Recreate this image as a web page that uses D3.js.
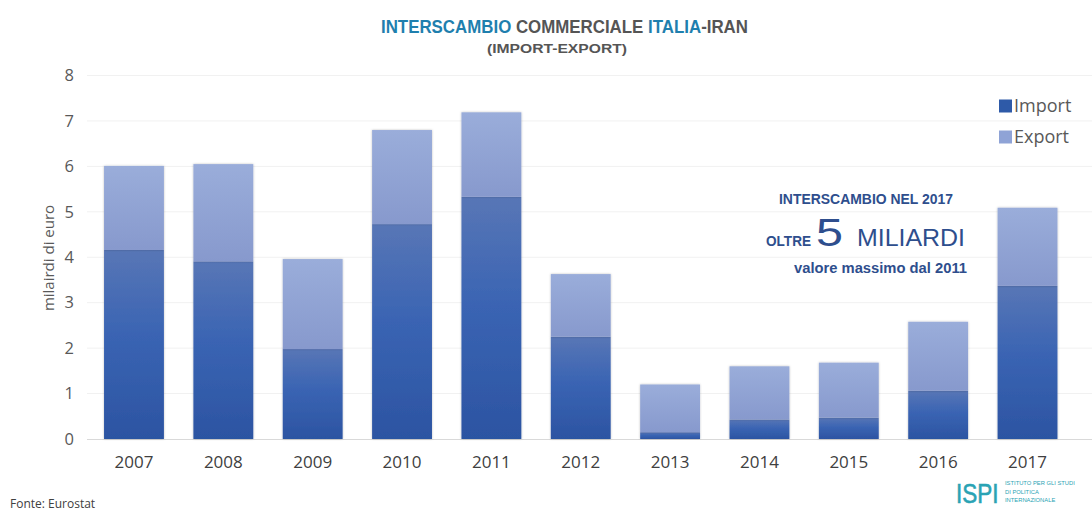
<!DOCTYPE html>
<html>
<head>
<meta charset="utf-8">
<script src="https://cdn.jsdelivr.net/npm/d3@7"></script>
<style>
  html, body { margin: 0; padding: 0; background: #ffffff; }
  svg { display: block; }
  .narrow { font-family: "Liberation Sans", Arial, sans-serif; }
  .ui { font-family: "Open Sans", "Noto Sans", sans-serif; }
</style>
</head>
<body>
<svg id="chart" width="1092" height="512"></svg>
<script>
// Italy-Iran trade, billions of euro
const years = ["2007", "2008", "2009", "2010", "2011", "2012", "2013", "2014", "2015", "2016", "2017"];
const importValues = [4.16, 3.91, 1.98, 4.73, 5.33, 2.25, 0.15, 0.43, 0.47, 1.06, 3.37];
const exportValues = [1.85, 2.14, 1.98, 2.07, 1.86, 1.38, 1.05, 1.17, 1.21, 1.52, 1.72];
const yTicks = [0, 1, 2, 3, 4, 5, 6, 7, 8];
const seriesNames = ["Import", "Export"];

const svg = d3.select("#chart");
const W = 1092, H = 512;

const x = d3.scaleBand().domain(years).range([89.3, 1072.2]).paddingInner(0.33).paddingOuter(0.165);
const y = d3.scaleLinear().domain([0, 8]).range([439, 75.5]);

// gradients for the two segments
const defs = svg.append("defs");
const gImp = defs.append("linearGradient").attr("id", "gImport").attr("x1", 0).attr("y1", 0).attr("x2", 0).attr("y2", 1);
gImp.append("stop").attr("offset", "0%").attr("stop-color", "#5876b6");
gImp.append("stop").attr("offset", "45%").attr("stop-color", "#3a64b3");
gImp.append("stop").attr("offset", "100%").attr("stop-color", "#2c54a2");
const gExp = defs.append("linearGradient").attr("id", "gExport").attr("x1", 0).attr("y1", 0).attr("x2", 0).attr("y2", 1);
gExp.append("stop").attr("offset", "0%").attr("stop-color", "#9aadda");
gExp.append("stop").attr("offset", "100%").attr("stop-color", "#8799cd");
const shadow = defs.append("filter").attr("id", "shade").attr("x", "-10%").attr("y", "-5%").attr("width", "120%").attr("height", "110%");
shadow.append("feDropShadow").attr("dx", 0).attr("dy", 0).attr("stdDeviation", 1.2).attr("flood-color", "#000").attr("flood-opacity", 0.25);

// gridlines
svg.append("g")
  .selectAll("line")
  .data(yTicks.filter(d => d > 0))
  .join("line")
  .attr("x1", 87).attr("x2", W)
  .attr("y1", d => y(d)).attr("y2", d => y(d))
  .attr("stroke", "#f1f1f1").attr("stroke-width", 1);

// baseline
svg.append("line")
  .attr("x1", 87).attr("x2", W)
  .attr("y1", y(0) + 0.5).attr("y2", y(0) + 0.5)
  .attr("stroke", "#d9d9d9").attr("stroke-width", 1);

// y axis labels
const yAxis = d3.axisLeft(y).tickValues(yTicks).tickSize(0).tickPadding(0).tickFormat(d3.format("d"));
const gy = svg.append("g").attr("transform", "translate(74,0)").call(yAxis);
gy.select(".domain").remove();
gy.selectAll("text").attr("class", "ui").attr("font-size", 16.5).attr("fill", "#595959");

svg.append("text")
  .attr("class", "ui")
  .attr("transform", "translate(54,258) rotate(-90)")
  .attr("text-anchor", "middle")
  .attr("font-size", 15)
  .attr("fill", "#595959")
  .text("milairdi di euro");

// x axis labels
const xAxis = d3.axisBottom(x).tickSize(0).tickPadding(0);
const gx = svg.append("g").attr("transform", `translate(0,${y(0)})`).call(xAxis);
gx.select(".domain").remove();
gx.selectAll("text").attr("class", "ui").attr("font-size", 17).attr("fill", "#404040")
  .attr("y", 29).attr("dy", 0);

// stacked bars
const rows = years.map((yr, i) => ({ year: yr, Import: importValues[i], Export: exportValues[i] }));
const stack = d3.stack().keys(seriesNames)(rows);
const fills = { Import: "url(#gImport)", Export: "url(#gExport)" };

svg.append("g")
  .selectAll("g")
  .data(stack)
  .join("g")
  .attr("fill", d => fills[d.key])
  .selectAll("rect")
  .data(d => d)
  .join("rect")
  .attr("x", d => x(d.data.year))
  .attr("width", x.bandwidth())
  .attr("y", d => y(d[1]))
  .attr("height", d => y(d[0]) - y(d[1]))
  .attr("filter", "url(#shade)");

// title
const title = svg.append("text").attr("class", "narrow")
  .attr("x", 564.5).attr("y", 33).attr("text-anchor", "middle")
  .attr("font-size", 17.5).attr("font-weight", "bold")
  .attr("textLength", 367).attr("lengthAdjust", "spacingAndGlyphs");
title.append("tspan").attr("fill", "#1f7fae").text("INTERSCAMBIO ");
title.append("tspan").attr("fill", "#555555").text("COMMERCIALE ");
title.append("tspan").attr("fill", "#1f7fae").text("ITALIA");
title.append("tspan").attr("fill", "#555555").text("-IRAN");

svg.append("text").attr("class", "narrow")
  .attr("x", 557).attr("y", 53).attr("text-anchor", "middle")
  .attr("font-size", 13.5).attr("font-weight", "bold")
  .attr("textLength", 140).attr("lengthAdjust", "spacingAndGlyphs")
  .attr("fill", "#555555").text("(IMPORT-EXPORT)");

// legend
const legendColors = { Import: "#2e5aa8", Export: "#8fa3d6" };
const leg = svg.append("g").selectAll("g").data(seriesNames).join("g")
  .attr("transform", (d, i) => `translate(999,${106 + i * 31})`);
leg.append("rect").attr("x", 0).attr("y", -6.5).attr("width", 13).attr("height", 13)
  .attr("fill", d => legendColors[d]);
leg.append("text").attr("class", "ui").attr("x", 15).attr("y", 0).attr("dy", "0.35em")
  .attr("font-size", 18).attr("fill", "#595959").text(d => d);

// 2017 annotation
const navy = "#2e4e8d";
svg.append("text").attr("class", "narrow")
  .attr("x", 779).attr("y", 204)
  .attr("font-size", 14.5).attr("font-weight", "bold")
  .attr("textLength", 174).attr("lengthAdjust", "spacingAndGlyphs")
  .attr("fill", navy).text("INTERSCAMBIO NEL 2017");

svg.append("text").attr("class", "narrow")
  .attr("x", 766).attr("y", 246)
  .attr("font-size", 14.5).attr("font-weight", "bold")
  .attr("textLength", 45).attr("lengthAdjust", "spacingAndGlyphs")
  .attr("fill", navy).text("OLTRE");
svg.append("text").attr("class", "narrow")
  .attr("x", 816).attr("y", 246)
  .attr("font-size", 38)
  .attr("textLength", 27).attr("lengthAdjust", "spacingAndGlyphs")
  .attr("fill", navy).text("5");
svg.append("text").attr("class", "narrow")
  .attr("x", 857).attr("y", 246)
  .attr("font-size", 24)
  .attr("textLength", 108).attr("lengthAdjust", "spacingAndGlyphs")
  .attr("fill", navy).text("MILIARDI");

svg.append("text").attr("class", "narrow")
  .attr("x", 794).attr("y", 273)
  .attr("font-size", 14.5).attr("font-weight", "bold")
  .attr("textLength", 173).attr("lengthAdjust", "spacingAndGlyphs")
  .attr("fill", navy).text("valore massimo dal 2011");

// source
svg.append("text").attr("class", "ui")
  .attr("x", 10).attr("y", 508)
  .attr("font-size", 12).attr("fill", "#404040").text("Fonte: Eurostat");

// ISPI mark
svg.append("text").attr("class", "narrow")
  .attr("transform", "translate(956,503) scale(1,1.2)")
  .attr("font-size", 22.5).attr("stroke", "#2aa3b4").attr("stroke-width", 0.5)
  .attr("fill", "#2aa3b4").text("ISPI");
["ISTITUTO PER GLI STUDI", "DI POLITICA", "INTERNAZIONALE"].forEach((t, i) => {
  svg.append("text").attr("class", "narrow").attr("font-size", 5.8).attr("fill", "#2aa3b4")
    .attr("x", 1005).attr("y", 485 + i * 8.5).text(t);
});
</script>
</body>
</html>
